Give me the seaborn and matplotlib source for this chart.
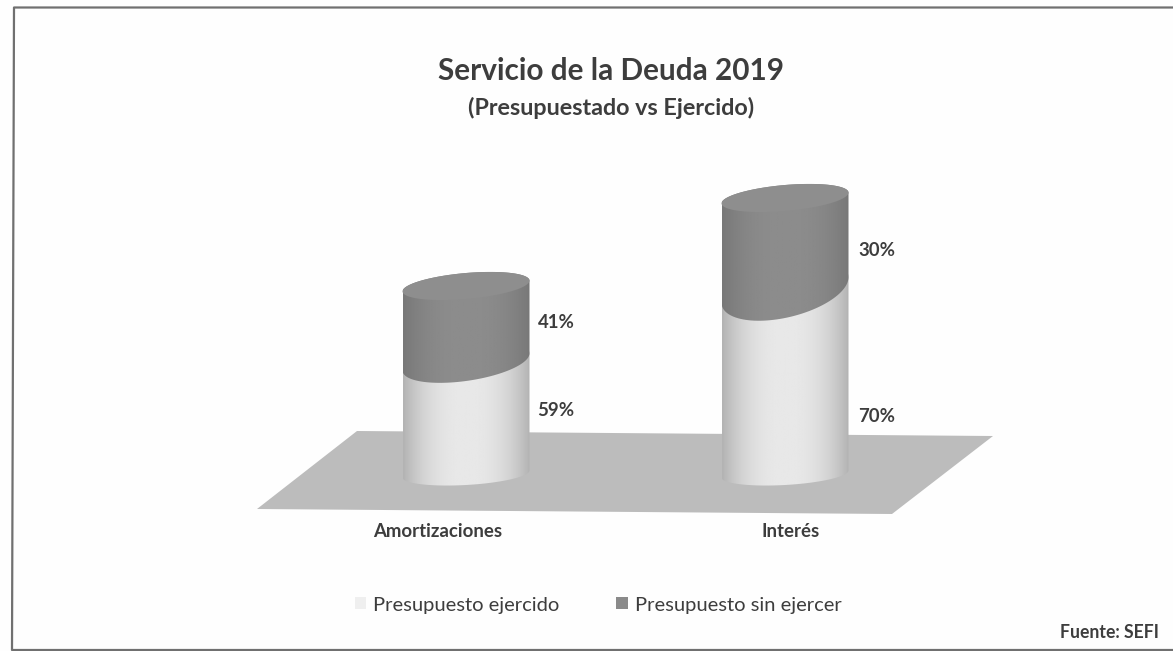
import numpy as np
import pandas as pd
import matplotlib
matplotlib.use("Agg")
import matplotlib.pyplot as plt
from matplotlib.patches import Polygon, PathPatch, Patch
from matplotlib.lines import Line2D
from matplotlib.path import Path
from matplotlib.transforms import Affine2D, ScaledTranslation
import seaborn as sns

# ---- data ----
categories = ["Amortizaciones", "Interés"]
series_names = ["Presupuesto ejercido", "Presupuesto sin ejercer"]
ejercido_pct = ["59%", "70%"]
sin_ejercer_pct = ["41%", "30%"]
# drawn heights (the perspective makes them differ)
ejercido_height = [112, 184]
sin_ejercer_height = [76, 92]

W, H = 1173, 651
sns.set_theme(style="white")
plt.rcParams["font.family"] = ["Lato", "DejaVu Sans"]
TXT = "#3d3d3d"
LIGHT, DARK, FLOOR = "#e2e2e2", "#8a8a8a", "#bcbcbc"

fig = plt.figure(figsize=(W / 100, H / 100), dpi=100, facecolor="#fefefe")
px = Affine2D().scale(1, -1).translate(0, H)  # image pixels to display

# frame (open on the right, slightly skewed as scanned) and floor, behind the axes
fig.add_artist(Line2D([1173, 14, 12, 1173], [7.5, 7.5, 650, 650], transform=px,
                      color="#707070", lw=1.6, zorder=-2))
fig.add_artist(Polygon([(257, 509), (357, 431), (993, 436), (892, 514)],
                       transform=px, fc=FLOOR, ec="none", zorder=-1))

# axes aligned so one y unit = one pixel and one category = 319 pixels
L, R, TOP, BOT, Y0 = 200, 1000, 150, 515, 474
ax = fig.add_axes([L / W, 1 - BOT / H, (R - L) / W, (BOT - TOP) / H])
ax.patch.set_alpha(0)
df = pd.DataFrame({"cat": categories, "ej": ejercido_height, "sin": sin_ejercer_height})
df["tot"] = df.ej + df.sin
WIDTH = 127 / 319
sns.barplot(df, x="cat", y="tot", color=DARK, width=WIDTH, saturation=1, ax=ax)
sns.barplot(df, x="cat", y="ej", color=LIGHT, width=WIDTH, saturation=1, ax=ax)
ax.set_xlim((L - 466) / 319, (R - 466) / 319)
ax.set_ylim(-(BOT - Y0), Y0 - TOP)
ax.set(xlabel="", ylabel="")
ax.set_yticks([])
sns.despine(ax=ax, left=True, bottom=True)
for p in ax.patches:
    p.set_visible(False)  # replaced by the cylinders below, same geometry

A = 63.5 / 319
T = np.linspace(0, 2 * np.pi, 121)


def arc(cx, cy, b, s, t):
    """Sheared ellipse points around a data anchor."""
    return np.c_[cx + A * np.cos(t), cy + b * np.sin(t) + s * 63.5 * np.cos(t)]


def cylinder_part(cx, low, high, lo, hi, z):
    cy0, b0, s0 = low
    cy1, b1, s1 = high
    lower = arc(cx, cy0, b0, s0, np.linspace(np.pi, 2 * np.pi, 60))
    upper = arc(cx, cy1, b1, s1, np.linspace(0, np.pi, 60))
    verts = np.r_[lower, upper, lower[:1]]
    patch = PathPatch(Path(verts), transform=ax.transData, fc="none", ec="none")
    ax.add_patch(patch)
    t = np.linspace(-1, 1, 200)
    g = lo + (hi - lo) * (1 - np.abs(t) ** 2.4)
    im = ax.imshow(g[None, :], extent=(cx - A, cx + A, min(verts[:, 1]), max(verts[:, 1])),
                   aspect="auto", cmap="gray", vmin=0, vmax=1, zorder=z)
    im.set_clip_path(patch)


for i, (e, s) in enumerate(zip(ejercido_height, sin_ejercer_height)):
    tilt_mid = [0.135, 0.20][i]
    b_mid = [19, 28][i]
    bottom = (0, 11, 0.055)
    mid = (e, b_mid, tilt_mid)
    top = (e + s, 13, 0.085)
    cylinder_part(i, bottom, mid, 0.70, 0.91, 3)
    cylinder_part(i, mid, top, 0.47, 0.55, 4)
    ax.fill(*arc(i, e + s, 13, 0.085, T).T, fc="#8e8e8e", ec="none", zorder=5)

# value labels
label_dy = [(8, 2), (-35, -6)]
label_dx = [8, 10]
for i in range(2):
    e, s = ejercido_height[i], sin_ejercer_height[i]
    for txt, ymid, dy in zip((ejercido_pct[i], sin_ejercer_pct[i]), (e / 2, e + s / 2), label_dy[i]):
        ax.annotate(txt, (i + A, ymid), xytext=(label_dx[i] * 0.72, dy * 0.72), textcoords="offset points",
                    ha="left", va="center", fontsize=13.4, fontweight="bold", color=TXT, zorder=6)

# category labels (offset from the bar centres, as in the picture)
ax.tick_params(axis="x", length=0, pad=6)
ax.set_xticks(range(2), categories, fontsize=13.4, fontweight="bold", color=TXT)
for lab, dx in zip(ax.get_xticklabels(), (-28, 6)):
    lab.set_transform(lab.get_transform() + ScaledTranslation(dx / 72 * 0.72, 0, fig.dpi_scale_trans))

# legend
handles = [Patch(fc="#efefef", ec="none"), Patch(fc=DARK, ec="none")]
fig.legend(handles, series_names, loc="center", bbox_to_anchor=(598 / W, 1 - 605 / H),
           ncol=2, frameon=False, fontsize=14.5, labelcolor=TXT, handlelength=0.55,
           handleheight=0.55, handletextpad=0.35, columnspacing=2.85)

# titles and source
fig.text(610.5 / W, 1 - 71 / H, "Servicio de la Deuda 2019", ha="center", va="center",
         fontsize=21.4, fontweight="bold", color=TXT)
fig.text(611 / W, 1 - 108 / H, "(Presupuestado vs Ejercido)", ha="center", va="center",
         fontsize=16.8, fontweight="bold", color=TXT)
fig.text(1159 / W, 1 - 633 / H, "Fuente: SEFI", ha="right", va="center",
         fontsize=12.7, fontweight="bold", color=TXT)

fig.savefig("out.png", dpi=100, facecolor=fig.get_facecolor())
